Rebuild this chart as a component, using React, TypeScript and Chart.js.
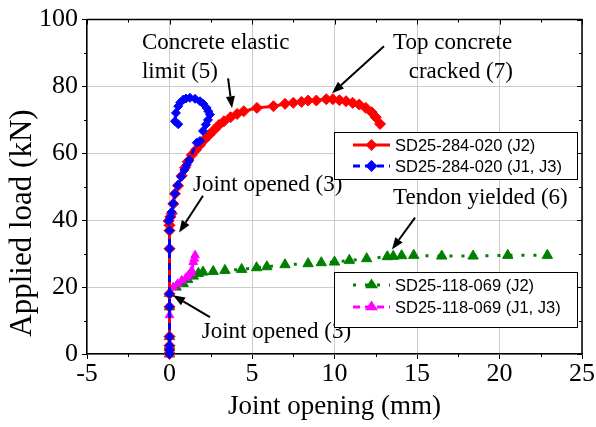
import React, { useEffect, useRef } from 'react';
import { Chart, registerables } from 'chart.js';

Chart.register(...registerables);

// ---------- data ----------
const xTickValues = [-5, 0, 5, 10, 15, 20, 25];
const yTickValues = [0, 20, 40, 60, 80, 100];

const seriesNames = [
  'SD25-284-020 (J2)',
  'SD25-284-020 (J1, J3)',
  'SD25-118-069 (J2)',
  'SD25-118-069 (J1, J3)',
];

// SD25-284-020 (J2)
const redX = [0, 0, 0, 0, 0, 0, 0, 0, 0, -0.05, 0.05, 0.13, 0.23, 0.33, 0.52, 0.74, 0.94, 1.1, 1.35, 1.6, 1.85, 2.1, 2.4, 2.7, 3.0, 3.3, 3.7, 4.1, 4.5, 5.3, 6.3, 7.0, 7.5, 8.0, 8.4, 8.9, 9.5, 9.9, 10.3, 10.7, 11.1, 11.5, 11.9, 12.25, 12.5, 12.76];
const redY = [0, 1.2, 2.5, 5.2, 14.1, 18, 31.5, 36.9, 38.5, 39.8, 41, 42, 44.9, 47.9, 50.3, 53.3, 55.7, 57.5, 59.5, 61, 62.5, 64, 65.5, 67, 68.5, 69.6, 70.8, 71.8, 72.6, 73.6, 74.1, 74.8, 75.1, 75.4, 75.8, 75.8, 76.2, 76.2, 75.9, 75.6, 75.1, 74.6, 73.6, 72.3, 70.8, 68.8];

// SD25-284-020 (J1, J3)
const blueX = [0, 0, 0, 0, 0, 0, 0, 0, -0.05, 0.05, 0.13, 0.23, 0.33, 0.5, 0.7, 0.9, 1.05, 1.2, 1.65, 1.85, 2.03, 2.2, 2.33, 2.45, 2.35, 2.25, 2.05, 1.85, 1.55, 1.24, 1.0, 0.84, 0.65, 0.53, 0.39, 0.33, 0.53];
const blueY = [0, 1.2, 2.5, 5.2, 14.1, 18, 31.5, 36.9, 39.8, 41, 42.5, 45, 48, 50.5, 53, 55, 56.5, 58, 63.2, 63.7, 66.7, 68.6, 70, 71.6, 72.6, 73.6, 74.8, 75.6, 76.3, 76.6, 76.4, 76.1, 75.2, 74.1, 72.1, 69.6, 68.7];

// SD25-118-069 (J2)
const greenX = [0, 0, 0, 0, 0, 0, 0.4, 0.83, 1.1, 1.44, 1.75, 2.03, 2.65, 3.36, 4.37, 5.28, 5.9, 7.0, 8.4, 9.2, 10.0, 10.9, 11.95, 13.2, 13.56, 14.07, 14.8, 16.5, 18.4, 20.5, 22.9];
const greenY = [0, 1.2, 2.5, 5.2, 14.1, 18.1, 20, 21.1, 22.3, 23.3, 24.1, 24.5, 24.7, 25, 25.3, 25.8, 26.1, 26.7, 27, 27.3, 27.5, 28, 28.5, 29.1, 29.2, 29.4, 29.5, 29.3, 29.3, 29.5, 29.5];

// SD25-118-069 (J1, J3)
const magentaX = [0, 0, 0, 0, 0, 0, 0.23, 0.5, 0.74, 1.0, 1.14, 1.3, 1.35, 1.44, 1.5, 1.55];
const magentaY = [0, 1.2, 2.5, 5.2, 11.6, 18.1, 20, 21, 22, 22.8, 23.5, 24.2, 25, 27.5, 28.5, 29.5];

// annotations (data coordinates)
const annotationTexts = [
  { text: 'Concrete elastic', x: -1.67, y: 91.1 },
  { text: 'limit (5)', x: -1.67, y: 82.4 },
  { text: 'Top concrete', x: 13.55, y: 91.1 },
  { text: 'cracked (7)', x: 14.5, y: 82.4 },
  { text: 'Joint opened (3)', x: 1.42, y: 48.8 },
  { text: 'Joint opened (3)', x: 1.95, y: 4.76 },
  { text: 'Tendon yielded (6)', x: 13.55, y: 44.9 },
];
const annotationArrows = [
  { x1: 3.55, y1: 82.4, x2: 3.79, y2: 73.5 },
  { x1: 13.0, y1: 92.0, x2: 9.85, y2: 78.0 },
  { x1: 2.03, y1: 47.3, x2: 0.58, y2: 36.3 },
  { x1: 2.45, y1: 11.0, x2: 0.21, y2: 17.6 },
  { x1: 14.88, y1: 40.8, x2: 13.48, y2: 31.25 },
];

const SERIF = '"Liberation Serif", "Times New Roman", serif';
const SANS = '"Liberation Sans", Arial, sans-serif';

const zip = (xs: number[], ys: number[]) => xs.map((x, i) => ({ x, y: ys[i] }));

const styles = [
  { color: '#ff0000', dash: [] as number[], point: 'rectRot', radius: 5.5, width: 3 },
  { color: '#0000ff', dash: [7, 5], point: 'rectRot', radius: 4.5, width: 3 },
  { color: '#008000', dash: [3, 9], point: 'triangle', radius: 6, width: 3 },
  { color: '#ff00ff', dash: [7, 5], point: 'triangle', radius: 5, width: 3 },
];

function drawMarker(ctx: CanvasRenderingContext2D, kind: string, x: number, y: number, r: number) {
  ctx.beginPath();
  if (kind === 'rectRot') {
    ctx.moveTo(x, y - r);
    ctx.lineTo(x + r, y);
    ctx.lineTo(x, y + r);
    ctx.lineTo(x - r, y);
  } else {
    const h = r * 1.5;
    const s = r * Math.sqrt(3) / 2 * 1.15;
    ctx.moveTo(x, y - h * 0.66);
    ctx.lineTo(x + s, y + h * 0.34);
    ctx.lineTo(x - s, y + h * 0.34);
  }
  ctx.closePath();
  ctx.fill();
}

function drawArrow(ctx: CanvasRenderingContext2D, x1: number, y1: number, x2: number, y2: number) {
  const ang = Math.atan2(y2 - y1, x2 - x1);
  const L = 12, W = 4.5;
  const bx = x2 - L * Math.cos(ang), by = y2 - L * Math.sin(ang);
  ctx.beginPath();
  ctx.moveTo(x1, y1);
  ctx.lineTo(bx, by);
  ctx.lineWidth = 2;
  ctx.stroke();
  ctx.beginPath();
  ctx.moveTo(x2, y2);
  ctx.lineTo(bx + W * Math.sin(ang), by - W * Math.cos(ang));
  ctx.lineTo(bx - W * Math.sin(ang), by + W * Math.cos(ang));
  ctx.closePath();
  ctx.fill();
}

const decorPlugin = {
  id: 'decor',
  afterDraw(chart: any) {
    const ctx: CanvasRenderingContext2D = chart.ctx;
    const { left, right, top, bottom } = chart.chartArea;
    const xs = chart.scales.x, ys = chart.scales.y;
    ctx.save();
    ctx.strokeStyle = '#000';
    ctx.fillStyle = '#000';
    ctx.lineWidth = 1.5;
    // frame
    ctx.beginPath();
    ctx.moveTo(left, top);
    ctx.lineTo(right, top);
    ctx.lineTo(right, bottom);
    ctx.stroke();
    ctx.lineWidth = 1;
    // ticks
    for (let v = -5; v <= 25; v += 2.5) {
      const px = Math.round(xs.getPixelForValue(v)) + 0.5;
      const major = Math.abs(v % 5) < 1e-6;
      const len = major ? 5 : 3;
      ctx.beginPath();
      if (!major) { ctx.moveTo(px, bottom); ctx.lineTo(px, bottom + len); }
      ctx.moveTo(px, top); ctx.lineTo(px, top + len);
      ctx.stroke();
    }
    for (let v = 0; v <= 100; v += 10) {
      const py = Math.round(ys.getPixelForValue(v)) + 0.5;
      const major = v % 20 === 0;
      const len = major ? 5 : 3;
      ctx.beginPath();
      if (!major) { ctx.moveTo(left, py); ctx.lineTo(left - len, py); }
      ctx.moveTo(right, py); ctx.lineTo(right - len, py);
      ctx.stroke();
    }
    // y title
    ctx.save();
    ctx.translate(23, 223);
    ctx.rotate(-Math.PI / 2);
    ctx.font = `31px ${SERIF}`;
    ctx.textAlign = 'center';
    ctx.textBaseline = 'middle';
    ctx.fillText('Applied load (kN)', 0, 0);
    ctx.restore();
    // annotations
    ctx.font = `23px ${SERIF}`;
    ctx.textAlign = 'left';
    ctx.textBaseline = 'alphabetic';
    annotationTexts.forEach((a) => {
      ctx.fillText(a.text, xs.getPixelForValue(a.x), ys.getPixelForValue(a.y));
    });
    annotationArrows.forEach((a) => {
      drawArrow(ctx, xs.getPixelForValue(a.x1), ys.getPixelForValue(a.y1), xs.getPixelForValue(a.x2), ys.getPixelForValue(a.y2));
    });
    // legends
    const boxes = [
      { x: 334, y: 132, w: 243, h: 47, rows: [0, 1], rowY: [145, 166] },
      { x: 334, y: 272, w: 243, h: 55, rows: [2, 3], rowY: [285, 307] },
    ];
    boxes.forEach((b) => {
      ctx.fillStyle = '#fff';
      ctx.fillRect(b.x, b.y, b.w, b.h);
      ctx.strokeStyle = '#000';
      ctx.lineWidth = 1;
      ctx.setLineDash([]);
      ctx.strokeRect(b.x + 0.5, b.y + 0.5, b.w, b.h);
      b.rows.forEach((si, k) => {
        const st = styles[si];
        const y = b.rowY[k];
        ctx.strokeStyle = st.color;
        ctx.fillStyle = st.color;
        ctx.lineWidth = st.width;
        ctx.setLineDash(st.dash);
        ctx.beginPath();
        ctx.moveTo(353, y);
        ctx.lineTo(390, y);
        ctx.stroke();
        ctx.setLineDash([]);
        drawMarker(ctx, st.point, 371.5, y, st.point === 'rectRot' ? 6 : 6.5);
        ctx.fillStyle = '#000';
        ctx.font = `16.5px ${SANS}`;
        ctx.textBaseline = 'middle';
        ctx.textAlign = 'left';
        ctx.fillText(seriesNames[si], 395, y + 1);
      });
    });
    ctx.restore();
  },
};

export default function App() {
  const ref = useRef<HTMLCanvasElement | null>(null);
  useEffect(() => {
    if (!ref.current) return;
    const all = [
      { xs: redX, ys: redY, order: 1 },
      { xs: blueX, ys: blueY, order: 0 },
      { xs: greenX, ys: greenY, order: 3 },
      { xs: magentaX, ys: magentaY, order: 2 },
    ];
    const datasets = all.map((d, i) => ({
      label: seriesNames[i],
      data: zip(d.xs, d.ys),
      order: d.order,
      borderColor: styles[i].color,
      backgroundColor: styles[i].color,
      borderWidth: styles[i].width,
      borderDash: styles[i].dash,
      pointStyle: styles[i].point as any,
      pointRadius: styles[i].radius,
      pointBorderWidth: 1,
      pointBorderColor: styles[i].color,
      pointBackgroundColor: styles[i].color,
      tension: 0,
      fill: false,
      showLine: true,
      clip: 8,
    }));
    const chart = new Chart(ref.current, {
      type: 'line',
      data: { datasets },
      options: {
        animation: false,
        responsive: false,
        maintainAspectRatio: false,
        layout: { padding: { top: 18, right: 14, left: 0, bottom: 0 } },
        plugins: { legend: { display: false }, tooltip: { enabled: false } },
        scales: {
          x: {
            type: 'linear',
            min: -5,
            max: 25,
            afterFit: (s: any) => { s.height = 73; },
            afterBuildTicks: (s: any) => { s.ticks = xTickValues.map((v) => ({ value: v })); },
            ticks: { color: '#000', font: { family: SERIF, size: 26 }, padding: 0, maxRotation: 0 },
            grid: { color: '#cccccc', tickColor: '#000', tickLength: 5, lineWidth: 1 },
            border: { color: '#000', width: 1.5 },
            title: { display: true, text: 'Joint opening (mm)', color: '#000', font: { family: SERIF, size: 27 }, padding: { top: 0, bottom: 4 } },
          },
          y: {
            type: 'linear',
            min: 0,
            max: 100,
            afterFit: (s: any) => { s.width = 87; },
            afterBuildTicks: (s: any) => { s.ticks = yTickValues.map((v) => ({ value: v })); },
            ticks: { color: '#000', font: { family: SERIF, size: 26 }, padding: 4 },
            grid: { color: '#cccccc', tickColor: '#000', tickLength: 5, lineWidth: 1 },
            border: { color: '#000', width: 1.5 },
          },
        },
      },
      plugins: [decorPlugin],
    });
    return () => chart.destroy();
  }, []);
  return (
    <div style={{ position: 'absolute', left: 0, top: 0, width: 596, height: 427, background: '#fff' }}>
      <canvas ref={ref} width={596} height={427} />
    </div>
  );
}
